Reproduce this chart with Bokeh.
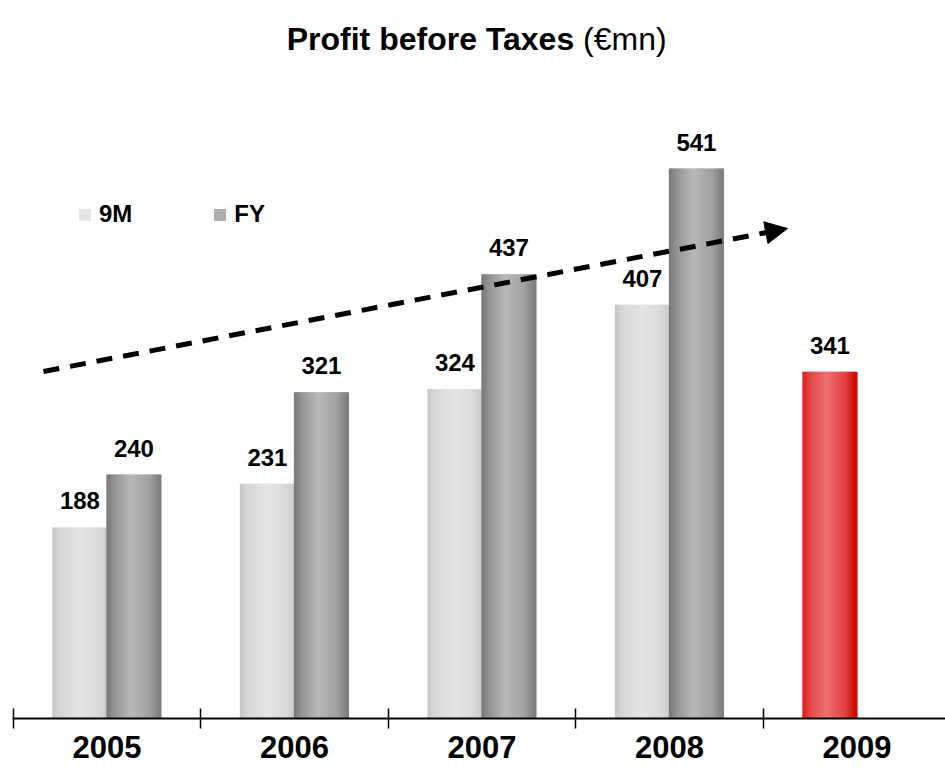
from bokeh.plotting import figure
from bokeh.models import (ColumnDataSource, Range1d, FixedTicker, LabelSet, Label,
                          Arrow, NormalHead, Legend, LegendItem)
from bokeh.core.properties import value
from bokeh.embed import file_html
from bokeh.resources import INLINE

# ---- data ----
years = ["2005", "2006", "2007", "2008", "2009"]
nine_m = [188, 231, 324, 407, 341]
full_year = [240, 321, 437, 541, None]
nine_m_highlight = [False, False, False, False, True]

FONT = "Liberation Sans"
BAR_W = 0.288
N_STRIPS = 27

def hex2rgb(h):
    h = h.lstrip("#")
    return tuple(int(h[i:i + 2], 16) for i in (0, 2, 4))

def grad(stops, t):
    for (t0, c0), (t1, c1) in zip(stops[:-1], stops[1:]):
        if t0 <= t <= t1:
            f = (t - t0) / (t1 - t0) if t1 > t0 else 0
            a, b = hex2rgb(c0), hex2rgb(c1)
            return "#%02x%02x%02x" % tuple(round(a[i] + (b[i] - a[i]) * f) for i in range(3))
    return stops[-1][1]

GREY_LIGHT = [(0, "#c6c6c6"), (0.12, "#d6d6d6"), (0.5, "#e4e4e4"), (0.85, "#dadada"), (1, "#cbcbcb")]
GREY_DARK = [(0, "#787878"), (0.15, "#949494"), (0.45, "#b9b9b9"), (0.8, "#a0a0a0"), (1, "#7c7c7c")]
RED = [(0, "#dc1818"), (0.15, "#e44a4a"), (0.45, "#ee7070"), (0.8, "#e04040"), (1, "#d00000")]

def strips(values, offset, palettes):
    xs, tops, cols = [], [], []
    sw = BAR_W / N_STRIPS
    for i, v in enumerate(values):
        if v is None:
            continue
        pal = palettes[i]
        for k in range(N_STRIPS):
            t = (k + 0.5) / N_STRIPS
            xs.append(i + offset - BAR_W / 2 + (k + 0.5) * sw)
            tops.append(v)
            cols.append(grad(pal, t))
    return ColumnDataSource(dict(x=xs, top=tops, color=cols)), sw

PX_PER_UNIT = 1.0166
UNIT_PX = 187.5
W, H = 945, 779
BORDER_L, BORDER_B = 12, 61
frame_h = H - BORDER_B
x_start = -0.5 - 0.7 / UNIT_PX
x_end = x_start + (W - BORDER_L) / UNIT_PX

p = figure(width=W, height=H, output_backend="svg", toolbar_location=None,
           x_range=Range1d(x_start, x_end), y_range=Range1d(0, frame_h / PX_PER_UNIT),
           min_border_left=BORDER_L, min_border_right=0, min_border_top=0,
           min_border_bottom=BORDER_B, outline_line_color=None)
p.yaxis.visible = False
p.xgrid.visible = False
p.ygrid.visible = False

src9, sw = strips(nine_m, -BAR_W / 2, [RED if h else GREY_LIGHT for h in nine_m_highlight])
srcfy, _ = strips(full_year, BAR_W / 2, [GREY_DARK] * len(years))
r9 = p.vbar(x="x", top="top", bottom=0, width=sw * 1.6, fill_color="color",
            line_color=None, source=src9)
rfy = p.vbar(x="x", top="top", bottom=0, width=sw * 1.6, fill_color="color",
             line_color=None, source=srcfy)

# value labels
lab_x, lab_y, lab_t = [], [], []
for i, v in enumerate(nine_m):
    lab_x.append(i - BAR_W / 2); lab_y.append(v); lab_t.append(str(v))
for i, v in enumerate(full_year):
    if v is not None:
        lab_x.append(i + BAR_W / 2); lab_y.append(v); lab_t.append(str(v))
lsrc = ColumnDataSource(dict(x=lab_x, y=lab_y, t=lab_t))
p.add_layout(LabelSet(x="x", y="y", text="t", source=lsrc, y_offset=18,
                      text_align="center", text_baseline="alphabetic",
                      text_font=value(FONT), text_font_style="bold", text_font_size="24px",
                      text_color="black"))

# axis
ax = p.xaxis[0]
ax.ticker = FixedTicker(ticks=list(range(len(years))),
                        minor_ticks=[i - 0.5 for i in range(len(years) + 1)])
ax.major_label_overrides = {i: y for i, y in enumerate(years)}
ax.major_tick_in = 0
ax.major_tick_out = 0
ax.minor_tick_in = 10
ax.minor_tick_out = 10
ax.minor_tick_line_color = "black"
ax.minor_tick_line_width = 1.5
ax.axis_line_color = "black"
ax.axis_line_width = 2
ax.major_label_standoff = 7
ax.major_label_text_font = FONT
ax.major_label_text_font_style = "bold"
ax.major_label_text_font_size = "31px"
ax.major_label_text_color = "black"

# title (bold + regular part)
def px2x(px):
    return x_start + (px - BORDER_L) / UNIT_PX

def py2y(py):
    return (frame_h - py) / PX_PER_UNIT

TF = 32
tot = 11.947 * TF
bold_end = 475 - tot / 2 + 9.058 * TF
p.add_layout(Label(x=px2x(bold_end), y=py2y(38), text="Profit before Taxes",
                   text_align="right", text_baseline="middle", text_font=FONT,
                   text_font_style="bold", text_font_size=f"{TF}px", text_color="black"))
p.add_layout(Label(x=px2x(bold_end + 0.278 * TF), y=py2y(38), text="(€mn)",
                   text_align="left", text_baseline="middle", text_font=FONT,
                   text_font_style="normal", text_font_size=f"{TF}px", text_color="black"))

# trend arrow
p.add_layout(Arrow(end=NormalHead(size=22, fill_color="black", line_color="black", line_width=1),
                   x_start=px2x(43), y_start=py2y(371), x_end=px2x(787), y_end=py2y(228),
                   line_color="black", line_width=5, line_dash="16 11"))

# legend
legend = Legend(items=[LegendItem(label="9M", renderers=[r9], index=N_STRIPS // 2),
                       LegendItem(label="FY", renderers=[rfy], index=N_STRIPS // 3)],
                orientation="horizontal", location=(65, frame_h - 214 - 14),
                glyph_width=15, glyph_height=15, label_standoff=7, spacing=80,
                padding=0, margin=0, border_line_alpha=0, background_fill_alpha=0,
                label_text_font=FONT, label_text_font_style="bold",
                label_text_font_size="24px", label_text_color="black")
p.add_layout(legend, "center")

open("out.html", "w").write(file_html(p, INLINE))
